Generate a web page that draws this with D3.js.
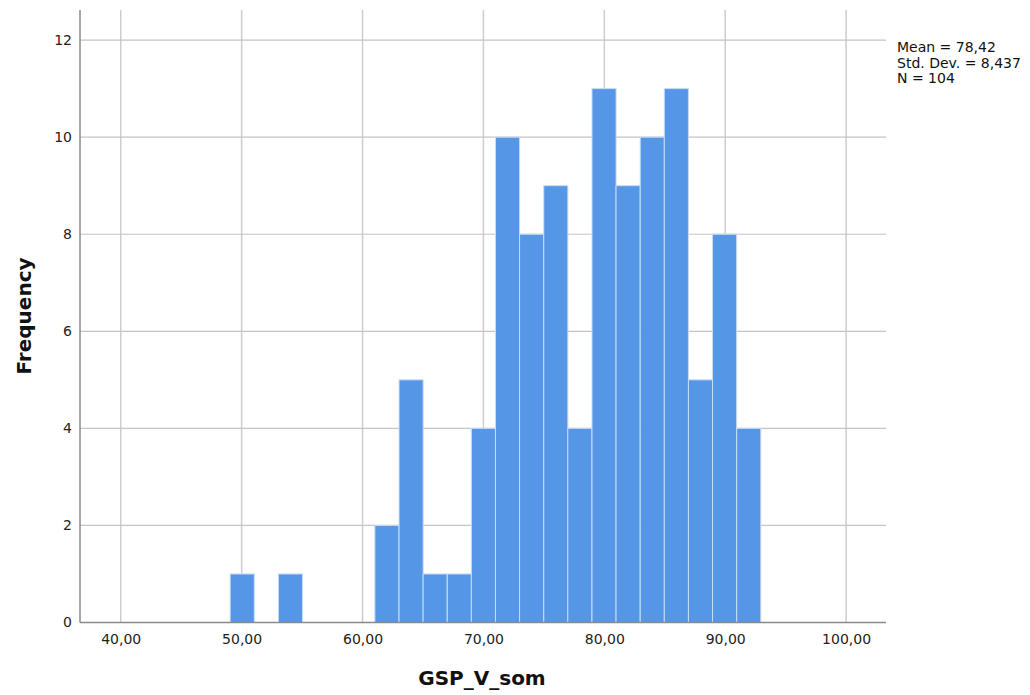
<!DOCTYPE html>
<html>
<head>
<meta charset="utf-8">
<script src="https://cdn.jsdelivr.net/npm/d3@7"></script>
<style>
  html, body { margin: 0; padding: 0; background: #fff; }
  svg { display: block; font-family: "DejaVu Sans", sans-serif; }
</style>
</head>
<body>
<svg id="chart" width="1030" height="695"></svg>
<script>
// ---- data ----
const binStarts = [49.05, 53.04, 61.02, 63.02, 65.01, 67.01, 69.00, 71.00, 72.99,
                   74.99, 76.98, 78.98, 80.97, 82.97, 84.96, 86.96, 88.95, 90.95];
const binWidth = 1.995;
const counts = [1, 1, 2, 5, 1, 1, 4, 10, 8, 9, 4, 11, 9, 10, 11, 5, 8, 4];
const xTicks = [40, 50, 60, 70, 80, 90, 100];
const yTicks = [0, 2, 4, 6, 8, 10, 12];
const statsLines = ["Mean = 78,42", "Std. Dev. = 8,437", "N = 104"];
const xTitle = "GSP_V_som";
const yTitle = "Frequency";

// ---- layout ----
const svg = d3.select("#chart");
const plot = { left: 80, right: 886, top: 10, bottom: 622.5 };

const x = d3.scaleLinear()
  .domain([36.63, 103.3])
  .range([plot.left, plot.right]);
const y = d3.scaleLinear()
  .domain([0, 12.62])
  .range([plot.bottom, plot.top]);

const fmt = v => d3.format(".2f")(v).replace(".", ",");

// grid lines
const grid = svg.append("g");
grid.selectAll("line.v").data(xTicks).enter().append("line")
  .attr("x1", d => x(d)).attr("x2", d => x(d))
  .attr("y1", plot.top).attr("y2", plot.bottom)
  .attr("stroke", "#cdcdcd").attr("stroke-width", 1.5);
grid.selectAll("line.h").data(yTicks.filter(d => d > 0)).enter().append("line")
  .attr("x1", plot.left).attr("x2", plot.right)
  .attr("y1", d => y(d)).attr("y2", d => y(d))
  .attr("stroke", "#c4c4c4").attr("stroke-width", 1.2);

// bars
svg.append("g").selectAll("rect").data(binStarts).enter().append("rect")
  .attr("x", d => x(d))
  .attr("width", d => x(d + binWidth) - x(d))
  .attr("y", (d, i) => y(counts[i]))
  .attr("height", (d, i) => y(0) - y(counts[i]))
  .attr("fill", "#5596e6")
  .attr("stroke", "#c9dcf5")
  .attr("stroke-width", 1);

// axes (lines only, no ticks)
const xAxis = d3.axisBottom(x).tickValues(xTicks).tickFormat(fmt).tickSize(0).tickPadding(12);
const gx = svg.append("g").attr("transform", `translate(0,${plot.bottom})`).call(xAxis);
gx.select(".domain").remove();
gx.selectAll("text").attr("font-size", 14).attr("fill", "#222").attr("font-family", "DejaVu Sans");

const yAxis = d3.axisLeft(y).tickValues(yTicks).tickFormat(d3.format("d")).tickSize(0).tickPadding(8);
const gy = svg.append("g").attr("transform", `translate(${plot.left},0)`).call(yAxis);
gy.select(".domain").remove();
gy.selectAll("text").attr("font-size", 14).attr("fill", "#222").attr("font-family", "DejaVu Sans");

svg.append("line")
  .attr("x1", plot.left).attr("x2", plot.left)
  .attr("y1", plot.top).attr("y2", plot.bottom)
  .attr("stroke", "#8a8a8a").attr("stroke-width", 1.5);
svg.append("line")
  .attr("x1", plot.left).attr("x2", plot.right)
  .attr("y1", plot.bottom).attr("y2", plot.bottom)
  .attr("stroke", "#8a8a8a").attr("stroke-width", 1.5);

// titles
svg.append("text")
  .attr("x", 482).attr("y", 685)
  .attr("text-anchor", "middle")
  .attr("font-size", 20).attr("font-weight", "bold").attr("fill", "#111")
  .text(xTitle);
svg.append("text")
  .attr("transform", "translate(31,316) rotate(-90)")
  .attr("text-anchor", "middle")
  .attr("font-size", 20).attr("font-weight", "bold").attr("fill", "#111")
  .text(yTitle);

// stats
svg.append("g").selectAll("text").data(statsLines).enter().append("text")
  .attr("x", 897).attr("y", (d, i) => 52 + i * 15.5)
  .attr("font-size", 14).attr("fill", "#111")
  .text(d => d);
</script>
</body>
</html>
